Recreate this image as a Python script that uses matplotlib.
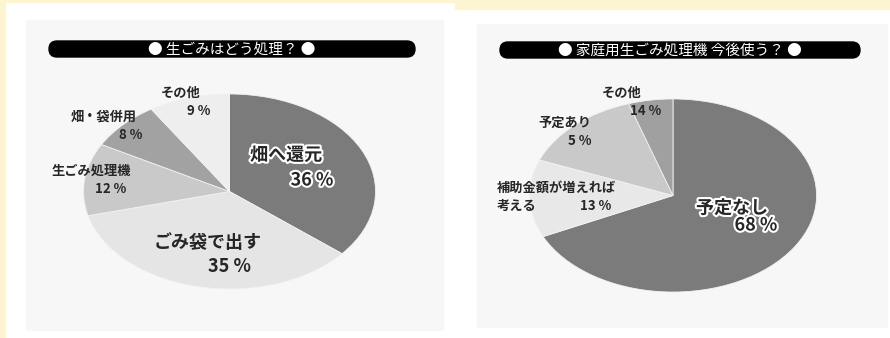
import matplotlib.pyplot as plt
import matplotlib.patheffects as pe
from matplotlib.patches import Rectangle, FancyBboxPatch

plt.rcParams['font.family'] = ['Noto Sans CJK JP', 'DejaVu Sans']

# data
left_title = '● 生ごみはどう処理？ ●'
left_labels = ['畑へ還元', 'ごみ袋で出す', '生ごみ処理機', '畑・袋併用', 'その他']
left_values = [36, 35, 12, 8, 9]

right_title = '● 家庭用生ごみ処理機 今後使う？ ●'
right_labels = ['予定なし', '補助金額が増えれば\n考える', '予定あり', 'その他']
right_values = [68, 13, 5, 14]
# wedge order as drawn in the picture (clockwise from 12 o'clock)
right_order = [0, 1, 3, 2]

W, H = 890, 338
fig = plt.figure(figsize=(W / 100, H / 100), dpi=100)


def px_axes(x0, y0, x1, y1, **kw):
    # axes placed by pixel box (y from top)
    return fig.add_axes([x0 / W, 1 - y1 / H, (x1 - x0) / W, (y1 - y0) / H], **kw)


#%% background
bg = px_axes(0, 0, W, H)
bg.set_xlim(0, W)
bg.set_ylim(H, 0)
bg.axis('off')
yellow = '#fdf5d2'
bg.add_patch(Rectangle((0, 0), W, H, color='white'))
bg.add_patch(Rectangle((0, 0), 5, H, color=yellow))
bg.add_patch(Rectangle((0, 0), 455, 2, color=yellow))
bg.add_patch(Rectangle((455, 0), W - 455, 9, color=yellow))
bg.add_patch(Rectangle((26, 20), 417, 310, color='#f7f7f7'))
bg.add_patch(Rectangle((477, 24), 410, 303, color='#f7f7f7'))

for x0, x1, y0, y1 in [(41, 423, 41, 57), (492, 868, 42, 58)]:
    r = (y1 - y0) / 2
    bg.add_patch(FancyBboxPatch((x0 + r, y0), x1 - x0 - 2 * r, y1 - y0,
                                boxstyle=f'round,pad=0,rounding_size={r}',
                                mutation_aspect=1, color='black'))

#%% pies
left_colors = ['#7b7b7b', '#e5e5e5', '#c9c9c9', '#a2a2a2', '#eeeeee']
right_colors = ['#7b7b7b', '#e8e8e8', '#c9c9c9', '#a0a0a0']

axL = px_axes(82, 93, 377, 290)
wedges, _ = axL.pie(left_values, colors=left_colors, startangle=90, counterclock=False,
                    wedgeprops=dict(edgecolor='#f2f2f2', linewidth=0.6))

axR = px_axes(528, 98, 818, 293)
wedges2, _ = axR.pie([right_values[i] for i in right_order], colors=right_colors,
                     startangle=90, counterclock=False,
                     wedgeprops=dict(edgecolor='#f2f2f2', linewidth=0.6))

for ax in (axL, axR):
    ax.set_aspect('auto')
    ax.set_xlim(-1.01, 1.01)
    ax.set_ylim(-1.01, 1.01)
    ax.axis('off')

#%% texts on top
tx = px_axes(0, 0, W, H)
tx.set_xlim(0, W)
tx.set_ylim(H, 0)
tx.axis('off')
tx.patch.set_alpha(0)

tx.text(232, 49.5, left_title, color='white', fontsize=10.5, ha='center', va='center')
tx.text(680, 50.5, right_title, color='white', fontsize=10.5, ha='center', va='center')

halo = [pe.withStroke(linewidth=3, foreground='white')]
ink = '#262626'

# (label pos, pct pos, size, halo)
left_pos = [((286, 155), (312, 180), 13, True),
            ((208, 243), (230, 267), 13, False),
            ((91, 171), (111, 189), 9.5, False),
            ((104, 117), (131, 135), 9.5, False),
            ((181, 93), (199, 111), 9.5, False)]
for lab, v, (p1, p2, fs, h) in zip(left_labels, left_values, left_pos):
    kw = dict(color=ink, fontsize=fs, fontweight='bold', ha='center', va='center',
              path_effects=halo if h else None)
    tx.text(*p1, lab, **kw)
    tx.text(*p2, f'{v} %', **kw)

right_pos = [((732, 208), (756, 225), 13, True),
             ((497, 188), (596, 206), 9.5, False),
             ((565, 123), (580, 141), 9.5, False),
             ((622, 93), (646, 111), 9.5, False)]
for lab, v, (p1, p2, fs, h) in zip(right_labels, right_values, right_pos):
    kw = dict(color=ink, fontsize=fs, fontweight='bold', va='center',
              path_effects=halo if h else None)
    lines = lab.split('\n')
    if len(lines) > 1:
        # wrapped label: left-aligned lines, one per row
        for k, line in enumerate(lines):
            tx.text(p1[0], p1[1] + 18 * k, line, ha='left', **kw)
    else:
        tx.text(*p1, lab, ha='center', **kw)
    tx.text(*p2, f'{v} %', ha='center', **kw)

fig.savefig('out.png', dpi=100)
